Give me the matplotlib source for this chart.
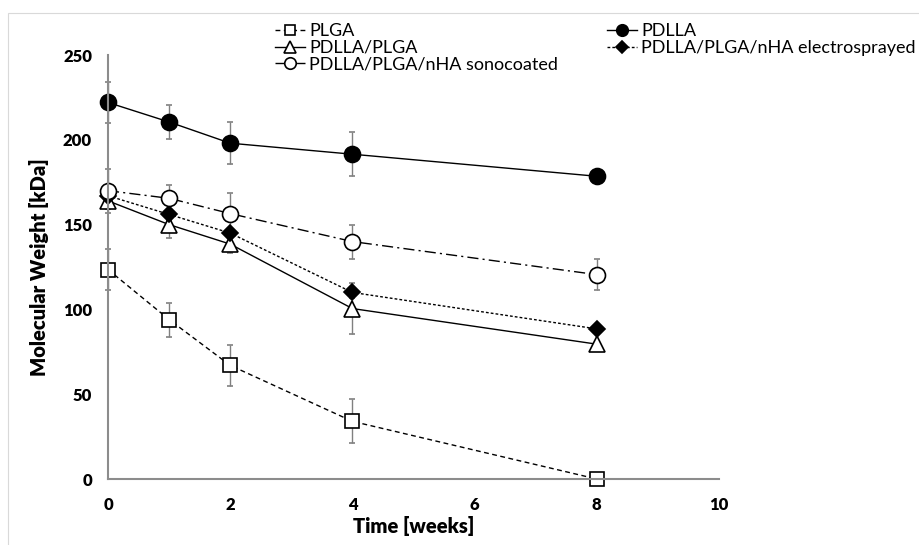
import matplotlib
matplotlib.use("Agg")
import matplotlib.pyplot as plt
from matplotlib.patches import Rectangle

weeks = [0, 1, 2, 4, 8]

plga = [123.5, 94, 67, 34, 0]
plga_err = [12, 10, 12, 13, 0]

pdlla = [222, 210.5, 198, 191.5, 178.5]
pdlla_err = [12, 10, 12.5, 13, 0]

pdlla_plga = [164, 150, 138.5, 100.5, 79.5]
pdlla_plga_err = [5, 8, 5, 15, 0]

electro = [167, 156, 145, 110, 88.5]
electro_err = [3, 3, 3, 3, 0]

sono = [170, 165.5, 156.5, 140, 120.5]
sono_err = [13, 8, 12, 10, 9]

labels = ["PLGA", "PDLLA", "PDLLA/PLGA", "PDLLA/PLGA/nHA electrosprayed",
          "PDLLA/PLGA/nHA sonocoated"]

x_ticks = [0, 2, 4, 6, 8, 10]
y_ticks = [0, 50, 100, 150, 200, 250]

plt.rcParams['font.family'] = ['Lato', 'DejaVu Sans']

W, H = 919, 545
fig = plt.figure(figsize=(W / 100, H / 100), dpi=100)
fig.patches.append(Rectangle((8 / W, -0.5), 2, (H - 13) / H + 0.5,
                             transform=fig.transFigure, fill=False,
                             edgecolor='#d9d9d9', linewidth=0.8))

ax = fig.add_axes([108 / W, (H - 479) / H, (719 - 108) / W, (479 - 55) / H])

ecol = '#808080'
common = dict(color='black', linewidth=1.0, ecolor=ecol, elinewidth=1.0,
              capsize=2.5, capthick=1.0, markeredgecolor='black',
              markeredgewidth=1.2)

h_plga = ax.errorbar(weeks, plga, yerr=plga_err, marker='s', markersize=10.5,
                     markerfacecolor='white', linestyle=(0, (3.5, 2.5)),
                     label=labels[0], **common)
h_pdlla = ax.errorbar(weeks, pdlla, yerr=pdlla_err, marker='o', markersize=11.5,
                      markerfacecolor='black', linestyle='-',
                      label=labels[1], **common)
h_pp = ax.errorbar(weeks, pdlla_plga, yerr=pdlla_plga_err, marker='^',
                   markersize=11.5, markerfacecolor='white', linestyle='-',
                   label=labels[2], **common)
h_el = ax.errorbar(weeks, electro, yerr=electro_err, marker='D', markersize=8.5,
                   markerfacecolor='black', linestyle=(0, (2, 1.5)),
                   label=labels[3], **common)
h_so = ax.errorbar(weeks, sono, yerr=sono_err, marker='o', markersize=11.5,
                   markerfacecolor='white', linestyle=(0, (8, 3, 1.5, 3)),
                   label=labels[4], **common)

ax.set_xlim(0, 10)
ax.set_ylim(0, 250)
ax.set_xticks(x_ticks)
ax.set_yticks(y_ticks)
for s in ['top', 'right']:
    ax.spines[s].set_visible(False)
for s in ['left', 'bottom']:
    ax.spines[s].set_color('#8c8c8c')
    ax.spines[s].set_linewidth(1.5)
ax.tick_params(length=0, labelsize=12)
ax.tick_params(axis='y', pad=11.5)
ax.tick_params(axis='x', pad=13)
for t in ax.get_xticklabels() + ax.get_yticklabels():
    t.set_fontweight('heavy')
for l in ax.lines:
    l.set_clip_on(False)
ax.set_xlabel("Time [weeks]", fontsize=14.5, fontweight='heavy')
ax.set_ylabel("Molecular Weight [kDa]", fontsize=14.5, fontweight='heavy')
ax.xaxis.set_label_coords(0.5, (479 - 516) / 424)
ax.yaxis.set_label_coords((49 - 108) / 611, 0.5)

leg_kw = dict(loc='upper left', frameon=False, fontsize=13,
              handlelength=1.65, handletextpad=0.25, labelspacing=0.05,
              borderpad=0, borderaxespad=0, markerscale=0.72)
leg1 = fig.legend([h_plga[0], h_pp[0], h_so[0]],
                  [labels[0], labels[2], labels[4]],
                  bbox_to_anchor=(275 / W, (H - 23) / H), **leg_kw)
leg2 = fig.legend([h_pdlla[0], h_el[0]], [labels[1], labels[3]],
                  bbox_to_anchor=(607 / W, (H - 23) / H), **leg_kw)

fig.savefig("out.png", dpi=100)
